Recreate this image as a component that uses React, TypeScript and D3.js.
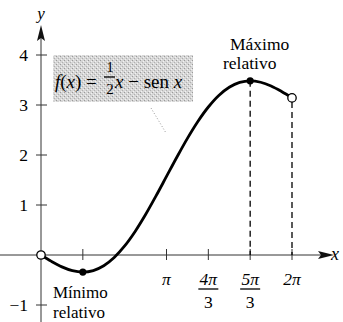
import React from "react";
import * as d3 from "d3";

const PI = Math.PI;
// curve samples (x in multiples of π, y)
const curveXPi = [0, 1 / 12, 1 / 6, 1 / 4, 1 / 3, 5 / 12, 1 / 2, 7 / 12, 2 / 3, 3 / 4, 5 / 6, 11 / 12, 1, 13 / 12, 7 / 6, 5 / 4, 4 / 3, 17 / 12, 3 / 2, 19 / 12, 5 / 3, 7 / 4, 11 / 6, 23 / 12, 2];
const curveY = [0, -0.128, -0.238, -0.314, -0.342, -0.311, -0.215, -0.050, 0.181, 0.471, 0.809, 1.182, 1.571, 1.960, 2.333, 2.671, 2.960, 3.191, 3.356, 3.453, 3.484, 3.455, 3.380, 3.270, 3.142];
const yTicks = [-1, 1, 2, 3, 4];
const xTickPi = [1, 4 / 3, 5 / 3, 2];
const xTickNum = ["π", "4π", "5π", "2π"];
const xTickDen = ["", "3", "3", ""];
const minPoint = { xPi: 1 / 3, y: -0.342 };
const maxPoint = { xPi: 5 / 3, y: 3.484 };
const openPoints = [{ xPi: 0, y: 0 }, { xPi: 2, y: 3.142 }];

const serif = "'Liberation Serif', 'DejaVu Serif', serif";

export default function App() {
  const x = d3.scaleLinear().domain([0, 2 * PI]).range([41, 292]);
  const y = d3.scaleLinear().domain([0, 4]).range([255, 55]);
  const pts: [number, number][] = curveXPi.map((v, i) => [x(v * PI), y(curveY[i])]);
  const line = d3.line().curve(d3.curveCatmullRom)(pts) as string;
  const x0 = x(0);
  const y0 = y(0);
  const fs = 17.5;
  return (
    <svg width={343} height={322} style={{ position: "absolute", left: 0, top: 0, background: "#fff" }}>
      <defs>
        <pattern id="stip" width="4" height="4" patternUnits="userSpaceOnUse">
          <rect width="4" height="4" fill="#d6d6d6" />
          <rect x="0" y="0" width="1" height="1" fill="#9a9a9a" />
          <rect x="2" y="2" width="1" height="1" fill="#b0b0b0" />
          <rect x="3" y="1" width="1" height="1" fill="#f2f2f2" />
          <rect x="1" y="3" width="1" height="1" fill="#f2f2f2" />
        </pattern>
      </defs>
      {/* axes */}
      <line x1={0} x2={326} y1={y0} y2={y0} stroke="#333" strokeWidth={1} />
      <path d={`M${334},${y0} L${318},${y0 - 4} L${321},${y0} L${318},${y0 + 4} Z`} fill="#111" />
      <line x1={x0} x2={x0} y1={322} y2={32} stroke="#333" strokeWidth={1} />
      <path d={`M${x0},${25} L${x0 - 4},${41} L${x0},${38} L${x0 + 4},${41} Z`} fill="#111" />
      <text x={335} y={y0 + 5} fontFamily={serif} fontStyle="italic" fontSize={18} textAnchor="middle">x</text>
      <text x={x0} y={19} fontFamily={serif} fontStyle="italic" fontSize={17} textAnchor="middle">y</text>
      {/* y ticks */}
      {yTicks.map((t) => (
        <g key={t}>
          <line x1={x0 - 5} x2={x0 + 6} y1={y(t)} y2={y(t)} stroke="#333" strokeWidth={1} />
          <text x={28} y={y(t) + 6} fontFamily={serif} fontSize={fs} textAnchor="end">
            {t < 0 ? "−" + Math.abs(t) : t}
          </text>
        </g>
      ))}
      {/* x ticks */}
      <line x1={x(PI / 3)} x2={x(PI / 3)} y1={y0 - 6} y2={y0 + 5} stroke="#333" strokeWidth={1} />
      {xTickPi.map((t, i) => (
        <g key={i}>
          <line x1={x(t * PI)} x2={x(t * PI)} y1={y0 - 6} y2={y0 + 5} stroke="#333" strokeWidth={1} />
          <text x={x(t * PI)} y={y0 + 30} fontFamily={serif} fontStyle="italic" fontSize={fs} textAnchor="middle">
            {xTickNum[i]}
          </text>
          {xTickDen[i] && (
            <g>
              <line x1={x(t * PI) - 10} x2={x(t * PI) + 10} y1={y0 + 34} y2={y0 + 34} stroke="#000" strokeWidth={1.3} />
              <text x={x(t * PI)} y={y0 + 53} fontFamily={serif} fontSize={fs} textAnchor="middle">
                {xTickDen[i]}
              </text>
            </g>
          )}
        </g>
      ))}
      {/* dashed drops */}
      <line x1={x(maxPoint.xPi * PI)} x2={x(maxPoint.xPi * PI)} y1={y(maxPoint.y)} y2={y0} stroke="#000" strokeWidth={1.3} strokeDasharray="6,4" />
      <line x1={x(openPoints[1].xPi * PI)} x2={x(openPoints[1].xPi * PI)} y1={y(openPoints[1].y) + 4} y2={y0} stroke="#000" strokeWidth={1.3} strokeDasharray="6,4" />
      {/* label box */}
      <rect x={53} y={55} width={140} height={47} fill="url(#stip)" />
      <line x1={151} x2={166} y1={108} y2={133} stroke="#999" strokeWidth={1} strokeDasharray="1,2" />
      <text x={55} y={88} fontFamily={serif} fontSize={19}>
        <tspan fontStyle="italic">f</tspan>(<tspan fontStyle="italic">x</tspan>) =
      </text>
      <text x={110} y={72} fontFamily={serif} fontSize={15} textAnchor="middle">1</text>
      <line x1={104} x2={115} y1={77} y2={77} stroke="#000" strokeWidth={1.3} />
      <text x={110} y={94} fontFamily={serif} fontSize={15} textAnchor="middle">2</text>
      <text x={115} y={88} fontFamily={serif} fontSize={19}>
        <tspan fontStyle="italic">x</tspan> − sen <tspan fontStyle="italic">x</tspan>
      </text>
      {/* curve */}
      <path d={line} fill="none" stroke="#000" strokeWidth={2.8} />
      {/* points */}
      <circle cx={x(minPoint.xPi * PI)} cy={y(minPoint.y)} r={3.6} fill="#000" />
      <circle cx={x(maxPoint.xPi * PI)} cy={y(maxPoint.y)} r={3.6} fill="#000" />
      {openPoints.map((p, i) => (
        <circle key={i} cx={x(p.xPi * PI)} cy={y(p.y)} r={4.2} fill="#fff" stroke="#000" strokeWidth={1.3} />
      ))}
      {/* annotations */}
      <text x={230} y={50} fontFamily={serif} fontSize={fs}>Máximo</text>
      <text x={223} y={69} fontFamily={serif} fontSize={fs}>relativo</text>
      <text x={53} y={298} fontFamily={serif} fontSize={17}>Mínimo</text>
      <text x={53} y={318} fontFamily={serif} fontSize={17}>relativo</text>
    </svg>
  );
}
